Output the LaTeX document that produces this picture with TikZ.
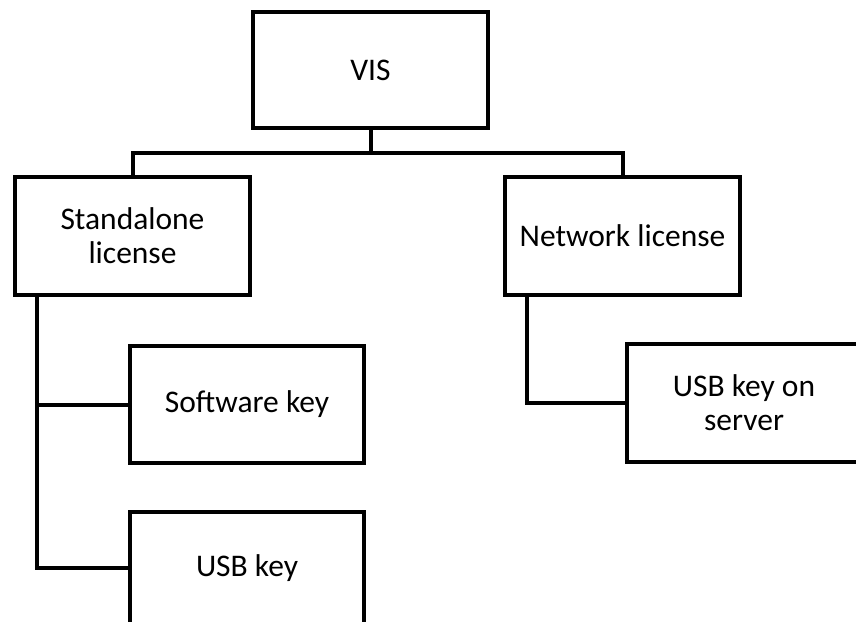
\documentclass[tikz,border=0pt]{standalone}
\usepackage{fontspec}
\setmainfont{Carlito}
\begin{document}
\begin{tikzpicture}[x=1pt,y=-1pt,
  box/.style={draw=black,line width=4pt,fill=white,align=center,inner sep=0pt,
    font=\fontsize{31.5}{34}\selectfont,text=black},
  conn/.style={draw=black,line width=4pt}]
\useasboundingbox (0,0) rectangle (856,621);
\clip (0,0) rectangle (856,621);
\node[box,minimum width=235pt,minimum height=116pt] (vis) at (370.5,70) {VIS};
\node[box,minimum width=235pt,minimum height=118pt] (sa) at (132.5,236) {Standalone\\license};
\node[box,minimum width=235pt,minimum height=118pt] (net) at (622.5,236) {Network license};
\node[box,minimum width=234pt,minimum height=117pt] (sw) at (247,404.5) {Software key};
\node[box,minimum width=234pt,minimum height=112pt] (usb) at (247,568) {USB key};
\node[box,minimum width=234pt,minimum height=118pt] (srv) at (744,403) {USB key on\\server};
\coordinate (j) at (370.5,153);
\draw[conn] (vis.south) -- (j);
\draw[conn] (sa.north) |- (j) -| (net.north);
\coordinate (sl) at ([xshift=24pt]sa.south west);
\coordinate (nl) at ([xshift=24pt]net.south west);
\draw[conn] (sl) |- (sw.west);
\draw[conn] (sl) |- (usb.west);
\draw[conn] (nl) |- (srv.west);
\end{tikzpicture}
\end{document}
